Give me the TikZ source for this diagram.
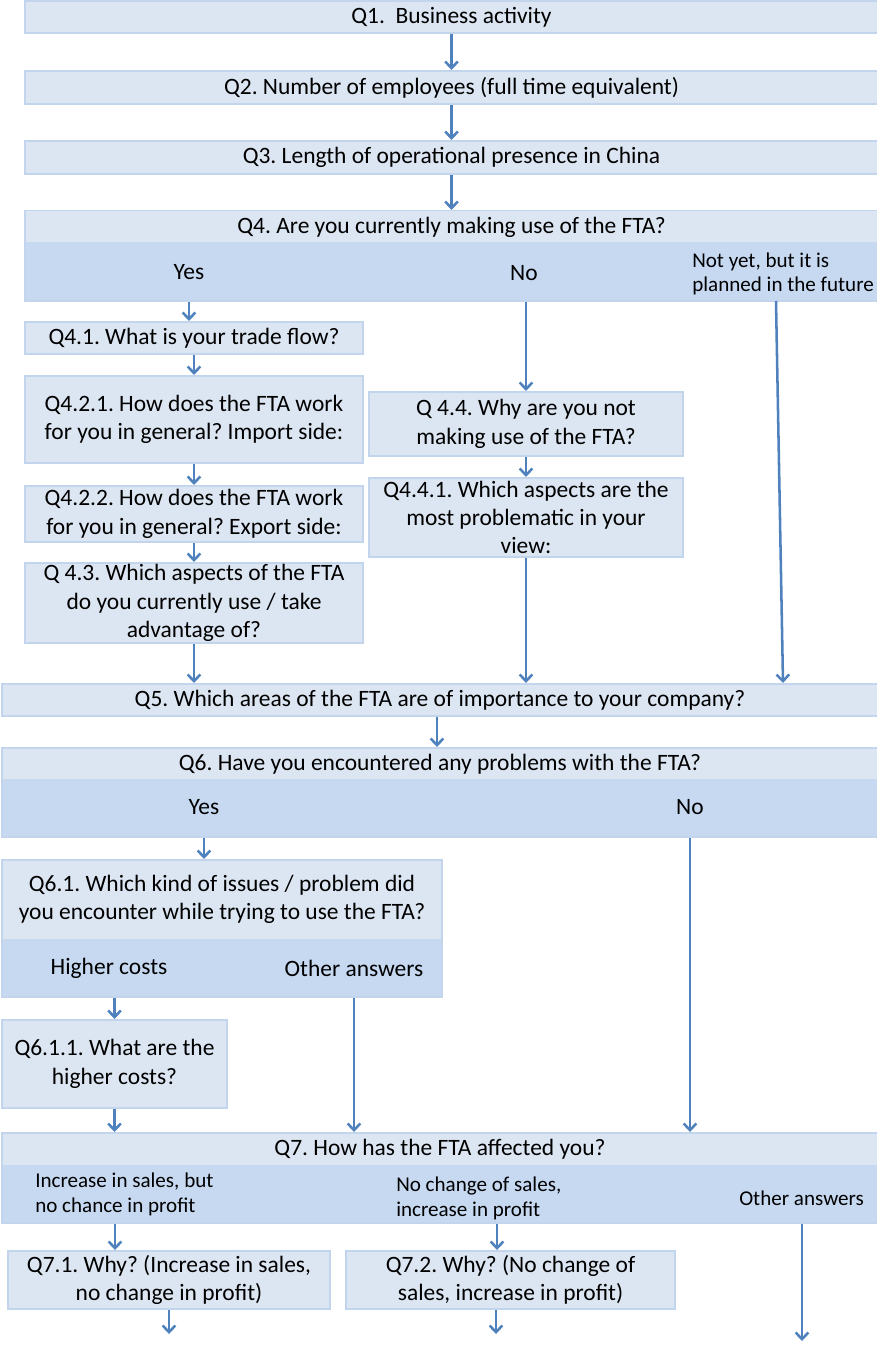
\documentclass[tikz,border=0pt]{standalone}
\usepackage{fontspec}
\setmainfont{Carlito}
\usetikzlibrary{arrows.meta,calc}
\definecolor{lightc}{HTML}{DCE6F2}
\definecolor{bandc}{HTML}{C6D9F1}
\definecolor{bordc}{HTML}{C3D5ED}
\definecolor{arrc}{HTML}{4F81BD}
\newcommand{\bigtxt}{\frenchspacing\fontsize{17.6pt}{21.3pt}\selectfont}
\newcommand{\smalltxt}{\frenchspacing\fontsize{15.8pt}{18.4pt}\selectfont}
\tikzset{
  sz/.style 2 args={minimum width=#1*0.75pt, minimum height=#2*0.75pt},
  qbox/.style={draw=bordc, fill=lightc, line width=1.5pt, inner sep=0pt, align=center, font=\bigtxt},
  bandbox/.style={draw=bordc, fill=bandc, line width=1.5pt, inner sep=0pt},
  topbox/.style={draw=none, fill=lightc, inner sep=0pt, align=center, font=\bigtxt},
  lbl/.style={inner sep=0pt, align=center, font=\bigtxt},
  slbl/.style={inner sep=0pt, align=left, anchor=west, font=\smalltxt},
  arr/.style={draw=arrc, line width=1.9pt, -{Straight Barb[length=5pt,width=9.5pt]}},
}
\begin{document}
\begin{tikzpicture}[x=0.75pt, y=-0.75pt]
\useasboundingbox (0,0) rectangle (876,1348);
% top boxes
\node[qbox, sz={853}{32}] (q1) at (451.5,17) {Q1.~ Business activity};
\node[qbox, sz={853}{33}] (q2) at (451.5,87.5) {Q2. Number of employees (full time equivalent)};
\node[qbox, sz={853}{33}] (q3) at (451.5,157.5) {Q3. Length of operational presence in China};
% Q4
\node[bandbox, sz={853}{90}] (q4) at (451.5,256) {};
\node[topbox, sz={851}{31}] (q4t) at (451.5,227) {Q4. Are you currently making use of the FTA?};
\node[lbl] (yes4) at (189,272) {Yes};
\node[lbl] (no4) at (524,273) {No};
\node[slbl] (ny) at (692,274) {Not yet, but it is\\planned in the future};
% Yes branch
\node[qbox, sz={338}{32}] (q41) at (194,338) {Q4.1. What is your trade flow?};
\node[qbox, sz={338}{87}] (q421) at (194,419.5) {Q4.2.1. How does the FTA work\\for you in general? Import side:};
\node[qbox, sz={338}{56}] (q422) at (194,514) {Q4.2.2. How does the FTA work\\for you in general? Export side:};
\node[qbox, sz={338}{80}] (q43) at (194,603) {Q 4.3. Which aspects of the FTA\\do you currently use / take\\advantage of?};
% No branch
\node[qbox, sz={314}{64}] (q44) at (526,424) {Q 4.4. Why are you not\\making use of the FTA?};
\node[qbox, sz={314}{79}] (q441) at (526,517.5) {Q4.4.1. Which aspects are the\\most problematic in your\\view:};
% Q5
\node[qbox, sz={876}{32}] (q5) at (440,700) {Q5. Which areas of the FTA are of importance to your company?};
% Q6
\node[bandbox, sz={876}{89}] (q6) at (440,792.5) {};
\node[topbox, sz={874}{30}] (q6t) at (440,764) {Q6. Have you encountered any problems with the FTA?};
\node[lbl] (yes6) at (204,807) {Yes};
\node[lbl] (no6) at (690,807) {No};
% Q6.1
\node[bandbox, sz={440}{137}] (q61) at (222,928.5) {};
\node[topbox, sz={438}{78}] (q61t) at (222,899.5) {Q6.1. Which kind of issues / problem did\\you encounter while trying to use the FTA?};
\node[lbl] (hc) at (109,968) {Higher costs};
\node[lbl] (oa6) at (354,968) {Other answers};
\node[qbox, sz={225}{88}] (q611) at (114.5,1064) {Q6.1.1. What are the\\higher costs?};
% Q7
\node[bandbox, sz={876}{90}] (q7) at (440,1178) {};
\node[topbox, sz={874}{31}] (q7t) at (440,1149.5) {Q7. How has the FTA affected you?};
\node[slbl] (inc) at (35,1194.5) {Increase in sales, but\\no chance in profit};
\node[slbl] (nc) at (396,1198.5) {No change of sales,\\increase in profit};
\node[slbl] (oa7) at (739,1198) {Other answers};
\node[qbox, sz={322}{58}] (q71) at (169,1280) {Q7.1. Why? (Increase in sales,\\no change in profit)};
\node[qbox, sz={329}{58}] (q72) at (510.5,1280) {Q7.2. Why? (No change of\\sales, increase in profit)};
% coordinates for free ends / columns
\coordinate (nytop) at (776,301);
\coordinate (nybot) at (783,0);
\coordinate (c1) at (115,0);
\coordinate (c2) at (497,0);
\coordinate (c3) at (437,0);
\coordinate (e71) at (169,1334);
\coordinate (e72) at (496,1334);
\coordinate (e73) at (802,1341);
% arrows
\draw[arr] (q1) -- (q2);
\draw[arr] (q2) -- (q3);
\draw[arr] (q3) -- (q4);
\draw[arr] (yes4 |- q4.south) -- (yes4 |- q41.north);
\draw[arr] (q41) -- (q421);
\draw[arr] (q421) -- (q422);
\draw[arr] (q422) -- (q43);
\draw[arr] (q43.south) -- (q43.south |- q5.north);
\draw[arr] (q44.north |- q4.south) -- (q44.north);
\draw[arr] (q44) -- (q441);
\draw[arr] (q441.south) -- (q441.south |- q5.north);
\draw[arr] (nytop) -- (nybot |- q5.north);
\draw[arr] (q5.south -| c3) -- (q6.north -| c3);
\draw[arr] (yes6 |- q6.south) -- (yes6 |- q61.north);
\draw[arr] (no6 |- q6.south) -- (no6 |- q7.north);
\draw[arr] (q611.north |- q61.south) -- (q611.north);
\draw[arr] (oa6 |- q61.south) -- (oa6 |- q7.north);
\draw[arr] (q611.south) -- (q611.south |- q7.north);
\draw[arr] (q7.south -| c1) -- (q71.north -| c1);
\draw[arr] (q7.south -| c2) -- (q72.north -| c2);
\draw[arr] (e73 |- q7.south) -- (e73);
\draw[arr] (q71.south) -- (e71);
\draw[arr] (e72 |- q72.south) -- (e72);
\end{tikzpicture}
\end{document}
